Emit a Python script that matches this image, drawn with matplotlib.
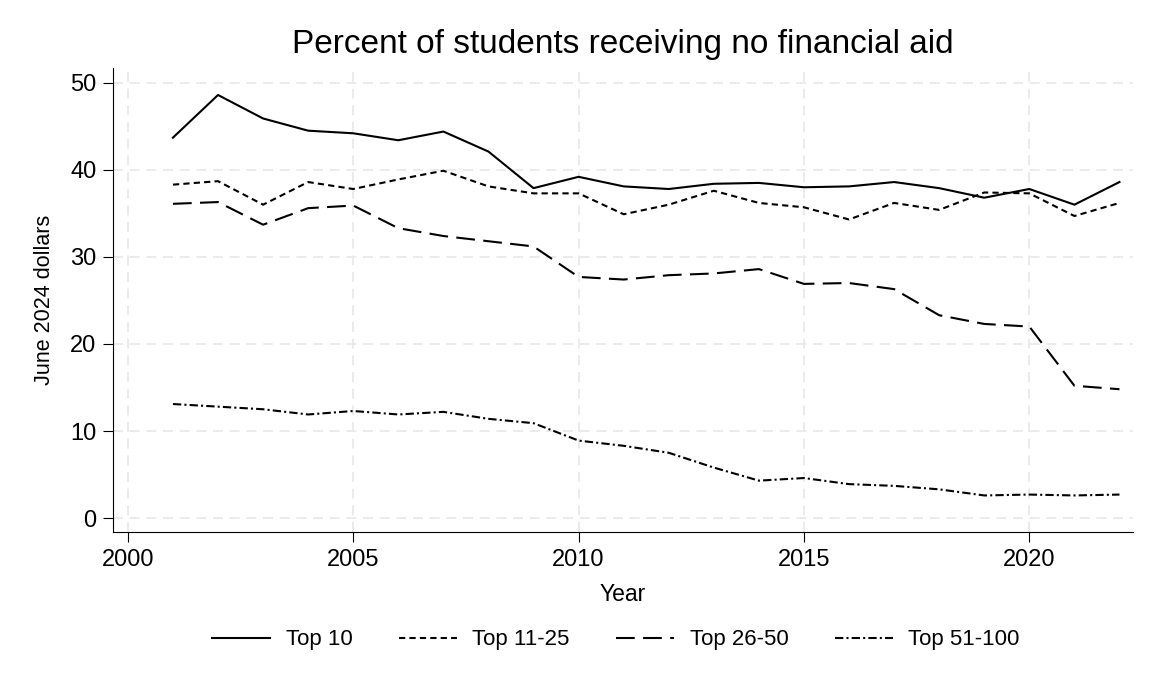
import numpy as np
import matplotlib.pyplot as plt

plt.rcParams['font.family'] = ['Liberation Sans', 'DejaVu Sans']

years = list(range(2001, 2023))
top10 = [43.7, 48.6, 45.9, 44.5, 44.2, 43.4, 44.4, 42.1, 37.9, 39.2, 38.1,
         37.8, 38.4, 38.5, 38.0, 38.1, 38.6, 37.9, 36.8, 37.8, 36.0, 38.6]
top11_25 = [38.3, 38.7, 36.0, 38.6, 37.8, 38.9, 39.9, 38.1, 37.3, 37.3, 34.9,
            36.0, 37.6, 36.2, 35.7, 34.3, 36.2, 35.4, 37.4, 37.3, 34.7, 36.2]
top26_50 = [36.1, 36.3, 33.7, 35.6, 35.9, 33.3, 32.4, 31.8, 31.2, 27.7, 27.4,
            27.9, 28.1, 28.6, 26.9, 27.0, 26.3, 23.3, 22.3, 22.0, 15.2, 14.8]
top51_100 = [13.1, 12.8, 12.5, 11.9, 12.3, 11.9, 12.2, 11.4, 10.9, 8.9, 8.3,
             7.5, 5.8, 4.3, 4.6, 3.9, 3.7, 3.3, 2.6, 2.7, 2.6, 2.7]

fig = plt.figure(figsize=(11.6, 6.96), dpi=100)
ax = fig.add_axes([113 / 1160, 1 - 532 / 696, (1133 - 113) / 1160, (532 - 68) / 696])

ax.plot(years, top10, color='black', lw=1.5, ls='-', label='Top 10')
ax.plot(years, top11_25, color='black', lw=1.5, ls=(0, (3, 2)), label='Top 11-25')
ax.plot(years, top26_50, color='black', lw=1.5, ls=(0, (9, 4)), label='Top 26-50')
ax.plot(years, top51_100, color='black', lw=1.5, ls=(0, (4, 1.5, 1, 1.5)), label='Top 51-100')

ax.set_xlim(1999.67, 2022.3)
ax.set_ylim(-1.6, 51.7)
ax.set_xticks([2000, 2005, 2010, 2015, 2020])
ax.set_yticks([0, 10, 20, 30, 40, 50])
ax.grid(True, color='#e8e8e8', ls=(0, (6, 4)), lw=1.2)
ax.set_axisbelow(True)
for s in ['top', 'right']:
    ax.spines[s].set_visible(False)
ax.tick_params(labelsize=17, length=7, pad=5)
ax.set_xlabel('Year', fontsize=16.5, labelpad=9)
ax.set_ylabel('June 2024 dollars', fontsize=15.5, labelpad=11)

fig.text(0.537, 1 - 45 / 696, 'Percent of students receiving no financial aid',
         fontsize=24, ha='center', va='center')

fig.legend(loc='center', bbox_to_anchor=(616 / 1160, 1 - 640 / 696), ncol=4, frameon=False,
           fontsize=16, handlelength=2.6, handletextpad=0.7, columnspacing=2.1)

fig.savefig('out.png', dpi=100)
